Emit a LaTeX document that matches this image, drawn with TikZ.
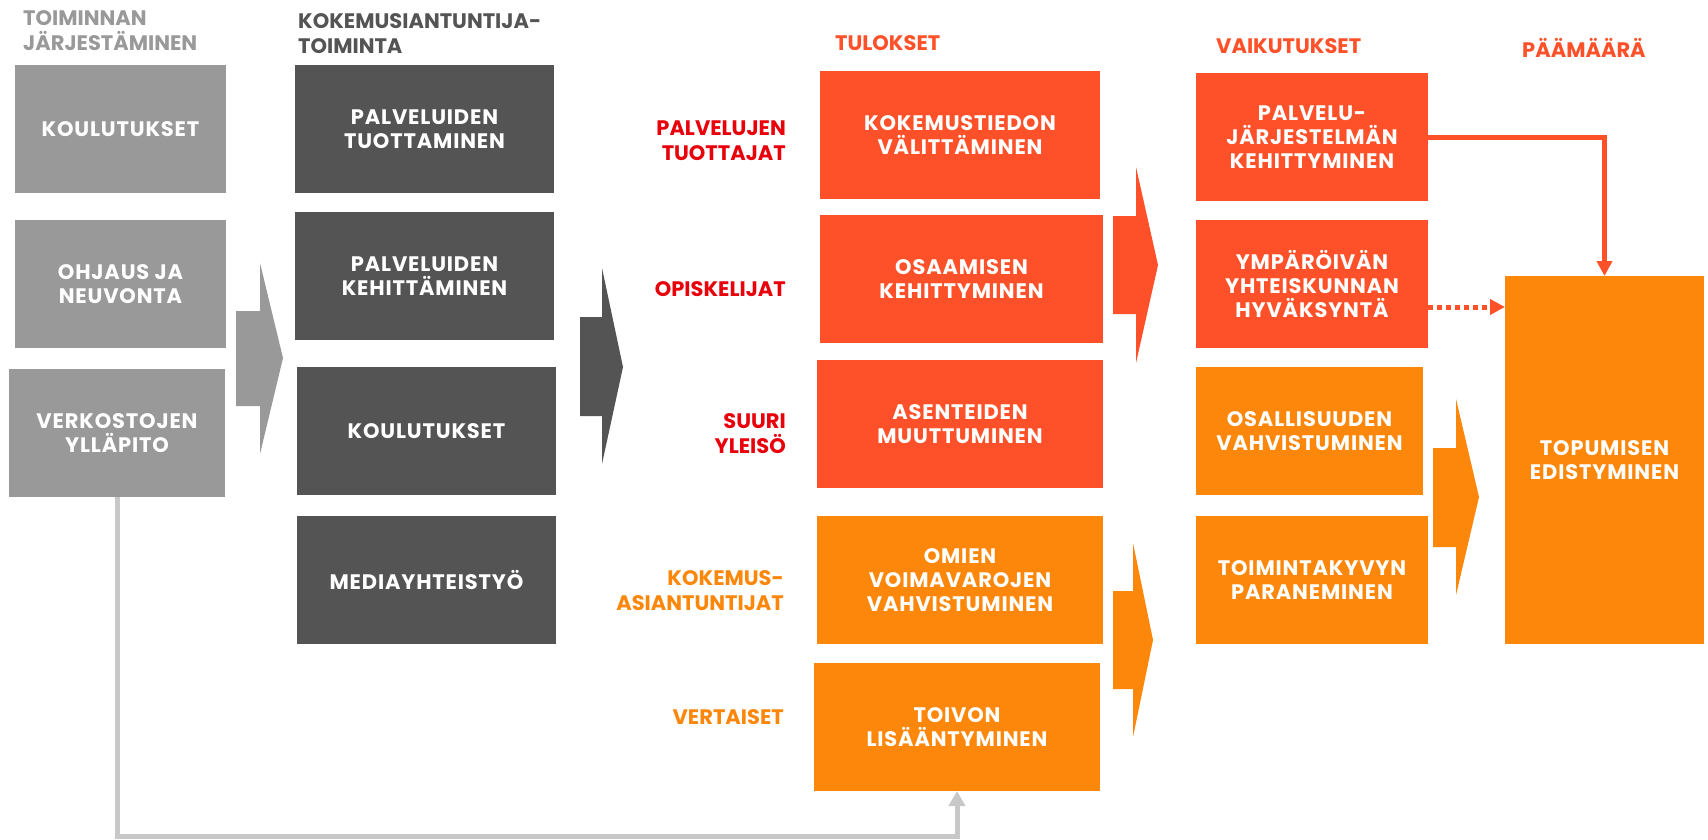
\documentclass[tikz,border=0pt]{standalone}
\usepackage{fontspec}
\setmainfont{Poppins}
\usetikzlibrary{arrows.meta}
\definecolor{cgray}{HTML}{999999}
\definecolor{cdark}{HTML}{545454}
\definecolor{cred}{HTML}{FE5129}
\definecolor{corange}{HTML}{FC870A}
\definecolor{clabred}{HTML}{E8000B}
\definecolor{cline}{HTML}{C8C8C8}
\newcommand\bxfont{\bfseries\fontsize{21}{24}\selectfont\addfontfeature{LetterSpace=4}}
\newcommand\hdfont{\bfseries\fontsize{21}{25}\selectfont}
\begin{document}
\begin{tikzpicture}[x=1pt,y=-1pt,
  box/.style={anchor=north west, inner sep=0pt, outer sep=0pt, align=center, text=white, font=\bxfont, minimum height=128pt},
  gbox/.style={box, fill=cgray},
  dbox/.style={box, fill=cdark},
  rbox/.style={box, fill=cred},
  obox/.style={box, fill=corange},
  head/.style={anchor=north west, inner sep=0pt, align=left, font=\hdfont},
  lab/.style={anchor=east, inner sep=0pt, align=right, font=\hdfont},
  tip/.style={-{Triangle[width=15pt,length=15pt]}},
  conn/.style={line width=5pt, cred, tip}
]
\fill[white] (0,0) rectangle (1708,839);
\useasboundingbox (0,0) rectangle (1708,839);

% headers
\node[head, text=cgray] (h1) at (23,10) {TOIMINNAN\\JÄRJESTÄMINEN};
\node[head, text=cdark] (h2) at (298,13) {KOKEMUSIANTUNTIJA-\\TOIMINTA};
\node[head, text=cred] (h3) at (835,35) {TULOKSET};
\node[head, text=cred] (h4) at (1216,38) {VAIKUTUKSET};
\node[head, text=cred] (h5) at (1522,38) {PÄÄMÄÄRÄ};

% column 1
\node[gbox, minimum width=211pt] (g1) at (15,65) {KOULUTUKSET};
\node[gbox, minimum width=211pt] (g2) at (15,220) {OHJAUS JA\\NEUVONTA};
\node[gbox, minimum width=216pt] (g3) at (9,369) {VERKOSTOJEN\\YLLÄPITO};

% column 2
\node[dbox, minimum width=259pt] (d1) at (295,65) {PALVELUIDEN\\TUOTTAMINEN};
\node[dbox, minimum width=259pt] (d2) at (295,212) {PALVELUIDEN\\KEHITTÄMINEN};
\node[dbox, minimum width=259pt] (d3) at (297,367) {KOULUTUKSET};
\node[dbox, minimum width=259pt] (d4) at (297,516) {MEDIAYHTEISTYÖ};

% labels
\node[lab, text=clabred] (l1) at (786,141) {PALVELUJEN\\TUOTTAJAT};
\node[lab, text=clabred] (l2) at (786,289.5) {OPISKELIJAT};
\node[lab, text=clabred] (l3) at (786,434) {SUURI\\YLEISÖ};
\node[lab, text=corange] (l4) at (784,591) {KOKEMUS-\\ASIANTUNTIJAT};
\node[lab, text=corange] (l5) at (784,717.5) {VERTAISET};

% column 3
\node[rbox, minimum width=280pt] (t1) at (820,71) {KOKEMUSTIEDON\\VÄLITTÄMINEN};
\node[rbox, minimum width=283pt] (t2) at (820,215) {OSAAMISEN\\KEHITTYMINEN};
\node[rbox, minimum width=286pt] (t3) at (817,360) {ASENTEIDEN\\MUUTTUMINEN};
\node[obox, minimum width=286pt] (t4) at (817,516) {OMIEN\\VOIMAVAROJEN\\VAHVISTUMINEN};
\node[obox, minimum width=286pt] (t5) at (814,663) {TOIVON\\LISÄÄNTYMINEN};

% column 4
\node[rbox, minimum width=232pt] (v1) at (1196,73) {PALVELU-\\JÄRJESTELMÄN\\KEHITTYMINEN};
\node[rbox, minimum width=232pt] (v2) at (1196,220) {YMPÄRÖIVÄN\\YHTEISKUNNAN\\HYVÄKSYNTÄ};
\node[obox, minimum width=227pt] (v3) at (1196,367) {OSALLISUUDEN\\VAHVISTUMINEN};
\node[obox, minimum width=232pt] (v4) at (1196,516) {TOIMINTAKYVYN\\PARANEMINEN};

% goal
\node[obox, minimum width=199pt, minimum height=368pt] (pm) at (1505,276) {TOPUMISEN\\EDISTYMINEN};

% block arrows
\fill[cgray] (236,311) -- (260,311) -- (260,263) -- (283,358) -- (260,454) -- (260,406) -- (236,406) -- cycle;
\fill[cdark] (580,317) -- (602,317) -- (602,268) -- (623,367) -- (602,464) -- (602,416) -- (580,416) -- cycle;
\fill[cred] (1113,216) -- (1136,216) -- (1136,167) -- (1158,265) -- (1136,363) -- (1136,314) -- (1113,314) -- cycle;
\fill[corange] (1113,591) -- (1133,591) -- (1133,543) -- (1153,640) -- (1133,737) -- (1133,689) -- (1113,689) -- cycle;
\fill[corange] (1433,448) -- (1456,448) -- (1456,399) -- (1479,497) -- (1456,595) -- (1456,547) -- (1433,547) -- cycle;

% connectors
\draw[conn] (v1.east) -| (pm.north);
\draw[conn, dash pattern=on 5pt off 4pt] ([yshift=-23pt]v2.east) -- ([yshift=-23pt]v2.east -| pm.west);
\draw[line width=5pt, cline, -{Triangle[width=16pt,length=15pt]}] (g3.south) -- ++(0,339) -| (t5.south);
\end{tikzpicture}
\end{document}
